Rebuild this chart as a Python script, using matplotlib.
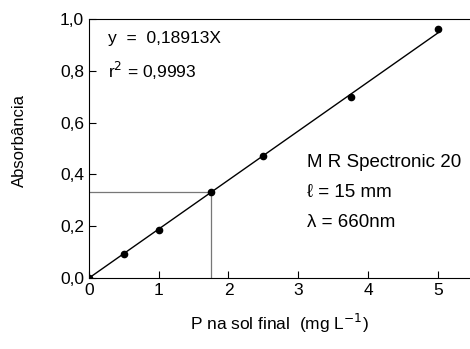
import matplotlib.pyplot as plt
from matplotlib.ticker import FuncFormatter

# dados da curva de calibração
conc = [0, 0.5, 1.0, 1.75, 2.5, 3.75, 5.0]
absorb = [0.0, 0.093, 0.185, 0.332, 0.471, 0.699, 0.961]
slope = 0.18913
x_ref = 1.75
y_ref = 0.332

plt.rcParams['font.family'] = ['Liberation Sans Narrow', 'Liberation Sans', 'DejaVu Sans']

fig = plt.figure(figsize=(4.7, 3.49), dpi=100)
ax = fig.add_axes([0.189, 0.203, 0.811, 0.743])

# linhas de referência
ax.plot([0, x_ref], [y_ref, y_ref], color='#777777', lw=0.9)
ax.plot([x_ref, x_ref], [y_ref, 0], color='#777777', lw=0.9)

# reta ajustada
xl = [0, 5]
ax.plot(xl, [slope * v for v in xl], color='black', lw=1.0)
ax.plot(conc, absorb, 'o', color='black', ms=4.5)

ax.set_xlim(0, 5.46)
ax.set_ylim(0, 1.0)
ax.set_xticks([0, 1, 2, 3, 4, 5])
ax.set_yticks([0, 0.2, 0.4, 0.6, 0.8, 1.0])
ax.yaxis.set_major_formatter(FuncFormatter(lambda v, p: f'{v:.1f}'.replace('.', ',')))
ax.tick_params(direction='in', length=5, labelsize=12.5)
ax.spines['right'].set_visible(False)

ax.set_xlabel('P na sol final  (mg L$^{-1}$)', fontsize=12.5, labelpad=10)
ax.set_ylabel('Absorbância', fontsize=12)
ax.yaxis.set_label_coords(-0.163, 0.53)

ax.text(0.28, 0.925, 'y  =  0,18913X', fontsize=12.5, va='center')
ax.text(0.28, 0.80, 'r$^2$ = 0,9993', fontsize=12.5, va='center')
ax.text(3.13, 0.445, 'M R Spectronic 20', fontsize=13.5, va='center')
ax.text(3.13, 0.33, 'ℓ = 15 mm', fontsize=13.5, va='center')
ax.text(3.13, 0.215, 'λ = 660nm', fontsize=13.5, va='center')

fig.savefig('out.png', dpi=100)
